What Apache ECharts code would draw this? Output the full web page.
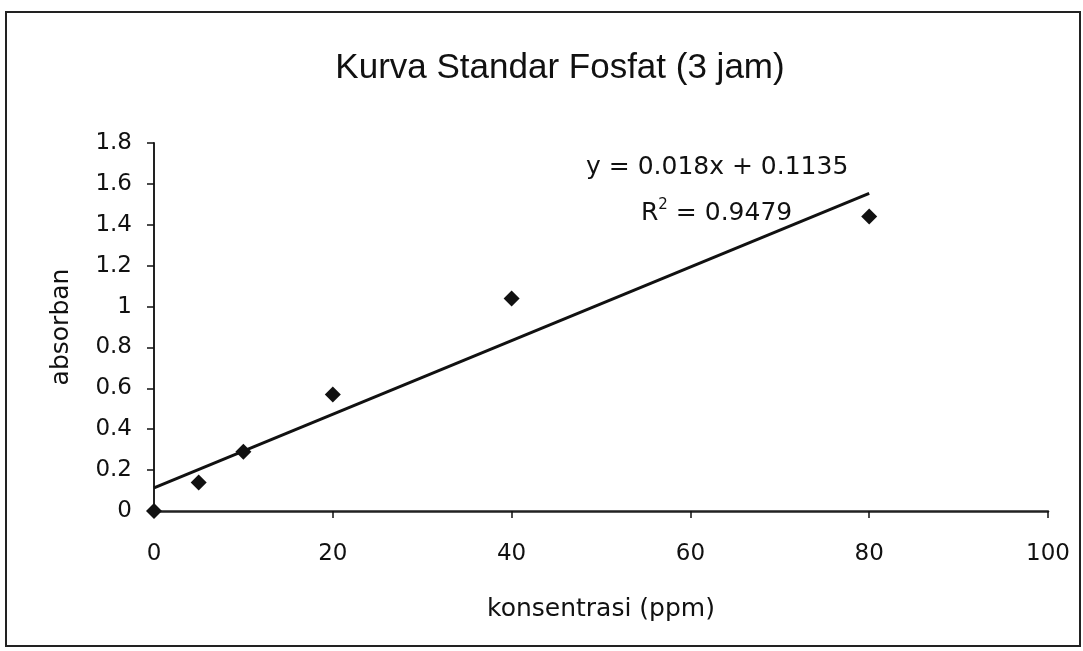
<!DOCTYPE html>
<html>
<head>
<meta charset="utf-8">
<script src="https://cdn.jsdelivr.net/npm/echarts@6/dist/echarts.min.js"></script>
<style>
  html, body { margin: 0; padding: 0; background: #fff; }
  #chart { width: 1083px; height: 651px; }
</style>
</head>
<body>
<div id="chart"></div>
<script>
// data
var konsentrasi = [0, 5, 10, 20, 40, 80];
var absorban = [0, 0.14, 0.29, 0.57, 1.04, 1.44];
// linear trendline y = 0.018x + 0.1135, drawn between x=0 and x=80
var trendX = [0, 80];
var trendY = [0.1135, 1.5535];

var mychart = echarts.init(document.getElementById('chart'));

var points = konsentrasi.map(function (x, i) { return [x, absorban[i]]; });
var trend = trendX.map(function (x, i) { return [x, trendY[i]]; });

var font = '"DejaVu Sans", Arial, sans-serif';
var titleFont = '"Liberation Sans", Arial, sans-serif';

var option = {
    backgroundColor: '#fff',
    animation: false,
    title: {
        text: 'Kurva Standar Fosfat (3 jam)',
        left: 555,
        top: 46,
        textAlign: 'center',
        textStyle: {
            color: '#111',
            fontFamily: titleFont,
            fontWeight: 'normal',
            fontSize: 35
        }
    },
    grid: {
        left: 154,
        right: 35,
        top: 143,
        bottom: 140
    },
    xAxis: {
        type: 'value',
        min: 0,
        max: 100,
        interval: 20,
        name: 'konsentrasi (ppm)',
        nameLocation: 'middle',
        nameGap: 86,
        nameTextStyle: { color: '#111', fontFamily: font, fontSize: 25 },
        axisLine: { show: true, lineStyle: { color: '#222', width: 2.5 } },
        axisTick: { show: true, inside: false, length: 7, lineStyle: { color: '#111', width: 1.5 } },
        axisLabel: { color: '#111', fontFamily: font, fontSize: 23, margin: 32 },
        splitLine: { show: false }
    },
    yAxis: {
        type: 'value',
        min: 0,
        max: 1.8,
        interval: 0.2,
        name: 'absorban',
        nameLocation: 'middle',
        nameGap: 80,
        nameTextStyle: { color: '#111', fontFamily: font, fontSize: 25 },
        axisLine: { show: true, lineStyle: { color: '#222', width: 2 } },
        axisTick: { show: true, inside: false, length: 7, lineStyle: { color: '#111', width: 1.5 } },
        axisLabel: {
            color: '#111', fontFamily: font, fontSize: 23, margin: 22,
            formatter: function (v) { return String(Math.round(v * 10) / 10); }
        },
        splitLine: { show: false }
    },
    graphic: [
        {
            type: 'rect',
            shape: { x: 6, y: 12, width: 1074, height: 634 },
            style: { fill: null, stroke: '#222', lineWidth: 2 },
            silent: true
        },
        {
            type: 'text',
            left: 586,
            top: 155,
            style: { text: 'y = 0.018x + 0.1135', fill: '#111', font: '25px ' + font }
        },
        {
            type: 'text',
            left: 641,
            top: 198,
            style: {
                text: '{b|R}{s|2}{b| = 0.9479}',
                fill: '#111',
                rich: {
                    b: { fontSize: 25, fontFamily: font, lineHeight: 28, verticalAlign: 'bottom', fill: '#111' },
                    s: { fontSize: 15, fontFamily: font, lineHeight: 16, verticalAlign: 'top', fill: '#111' }
                }
            }
        }
    ],
    series: [
        {
            name: 'trend',
            type: 'line',
            data: trend,
            symbol: 'none',
            lineStyle: { color: '#111', width: 3 },
            z: 2
        },
        {
            name: 'absorban',
            type: 'scatter',
            data: points,
            symbol: 'diamond',
            symbolSize: 16,
            itemStyle: { color: '#111', opacity: 1 },
            z: 3
        }
    ]
};

mychart.setOption(option);
</script>
</body>
</html>
